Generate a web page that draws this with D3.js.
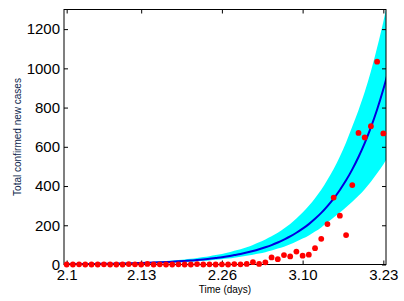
<!DOCTYPE html>
<html>
<head>
<meta charset="utf-8">
<script src="https://cdn.jsdelivr.net/npm/d3@7"></script>
<style>
html,body{margin:0;padding:0;background:#fff;}
svg{display:block;}
</style>
</head>
<body>
<svg id="chart" width="404" height="301"></svg>
<script>
// Tick labels (dates) and their day index
const tickDays = [0, 12, 25, 38, 51];
const tickLabels = ["2.1", "2.13", "2.26", "3.10", "3.23"];
const yTicks = [0, 200, 400, 600, 800, 1000, 1200];

// Observed daily new confirmed cases, day 0 = 2.1 ... day 51 = 3.23
const cases = [0,0,1,0,0,0,1,0,0,0,2,1,0,3,0,1,0,0,1,0,0,2,0,1,0,1,0,2,1,3,
  12,3,11,36,27,48,41,66,45,50,83,131,206,341,249,150,405,671,648,705,1034,668];

// Fitted curve and its band, read per day (day 0 ... day 52)
const fitLine = [1.8,2.0,2.3,2.6,2.9,3.3,3.7,4.2,4.7,5.3,
  6.0,6.8,7.7,8.7,9.8,11,12.5,14,16,18,
  20,23,26,29,33,37,42,48,54,61,
  69,78,88,99,112,127,143,162,183,206,
  233,263,298,336,380,429,485,548,619,699,
  790,893,1009];
const fitUpper = [2.6,2.9,3.3,3.8,4.2,4.8,5.4,6.1,6.8,7.7,
  8.7,9.9,11,12.6,14,16,18,20,23,26,
  29,33,38,42,48,54,61,70,78,88,
  100,113,128,144,162,184,207,235,265,299,
  338,381,432,487,551,622,703,787,879,985,
  1106,1238,1392];
const fitLower = [1.3,1.4,1.7,1.9,2.1,2.4,2.7,3.0,3.4,3.8,
  4.3,4.9,5.5,6.3,7.1,7.9,9,10,11.5,13,
  14.4,16.6,18.7,21,24,27,30,35,39,44,
  50,56,63,71,81,91,103,117,132,148,
  168,189,215,240,265,292,320,350,384,422,
  465,510,560];

const svg = d3.select("#chart");
const L = 64, R = 386, T = 9.5, B = 264.5;

const x = d3.scaleLinear().domain([-0.43, 51.43]).range([L, R]);
const y = d3.scaleLinear().domain([0, 1300]).range([B, T]);

svg.append("rect").attr("width", 404).attr("height", 301).attr("fill", "#fff");

svg.append("defs").append("clipPath").attr("id", "clip")
  .append("rect").attr("x", L).attr("y", T).attr("width", R - L).attr("height", B - T);

const fitData = fitLine.map((v, i) => ({d: i, v: v, lo: fitLower[i], hi: fitUpper[i]}));

const g = svg.append("g").attr("clip-path", "url(#clip)");
g.append("path")
  .datum(fitData)
  .attr("fill", "#00ffff")
  .attr("d", d3.area().curve(d3.curveMonotoneX)
    .x(p => x(p.d)).y0(p => y(p.lo)).y1(p => y(p.hi)));
g.append("path")
  .datum(fitData)
  .attr("fill", "none")
  .attr("stroke", "#0000e0")
  .attr("stroke-width", 2)
  .attr("d", d3.line().curve(d3.curveMonotoneX).x(p => x(p.d)).y(p => y(p.v)));

// Axes (MATLAB-style inward ticks, full box)
const fontFam = "'Liberation Sans', Arial, Helvetica, sans-serif";
const ax = (gen, tr) => {
  const a = svg.append("g").attr("transform", tr).call(gen);
  a.select(".domain").remove();
  a.selectAll("line").attr("stroke", "#000");
  a.selectAll("text").attr("fill", "#000").style("font-family", fontFam).style("font-size", "15px");
  return a;
};
ax(d3.axisBottom(x).tickValues(tickDays).tickFormat((d, i) => tickLabels[i]).tickSizeInner(-4).tickSizeOuter(0).tickPadding(5), `translate(0,${B})`);
ax(d3.axisTop(x).tickValues(tickDays).tickFormat("").tickSizeInner(-4).tickSizeOuter(0), `translate(0,${T})`);
ax(d3.axisLeft(y).tickValues(yTicks).tickFormat(d3.format("d")).tickSizeInner(-4).tickSizeOuter(0).tickPadding(4), `translate(${L},0)`);
ax(d3.axisRight(y).tickValues(yTicks).tickFormat("").tickSizeInner(-4).tickSizeOuter(0), `translate(${R},0)`);

svg.append("rect")
  .attr("x", L).attr("y", T).attr("width", R - L).attr("height", B - T)
  .attr("fill", "none").attr("stroke", "#000").attr("stroke-width", 1);

// Observed points
svg.append("g").selectAll("circle").data(cases).join("circle")
  .attr("cx", (v, i) => x(i))
  .attr("cy", v => y(v))
  .attr("r", 2.9)
  .attr("fill", "#ff0000");

// Axis titles
svg.append("text")
  .attr("x", (L + R) / 2).attr("y", 293)
  .attr("text-anchor", "middle")
  .style("font-family", fontFam).style("font-size", "10px")
  .attr("fill", "#000")
  .text("Time (days)");
svg.append("text")
  .attr("transform", `translate(21,${(T + B) / 2}) rotate(-90)`)
  .attr("text-anchor", "middle")
  .style("font-family", fontFam).style("font-size", "10px")
  .attr("fill", "#0d1f4d")
  .text("Total confirmed new cases");
</script>
</body>
</html>
